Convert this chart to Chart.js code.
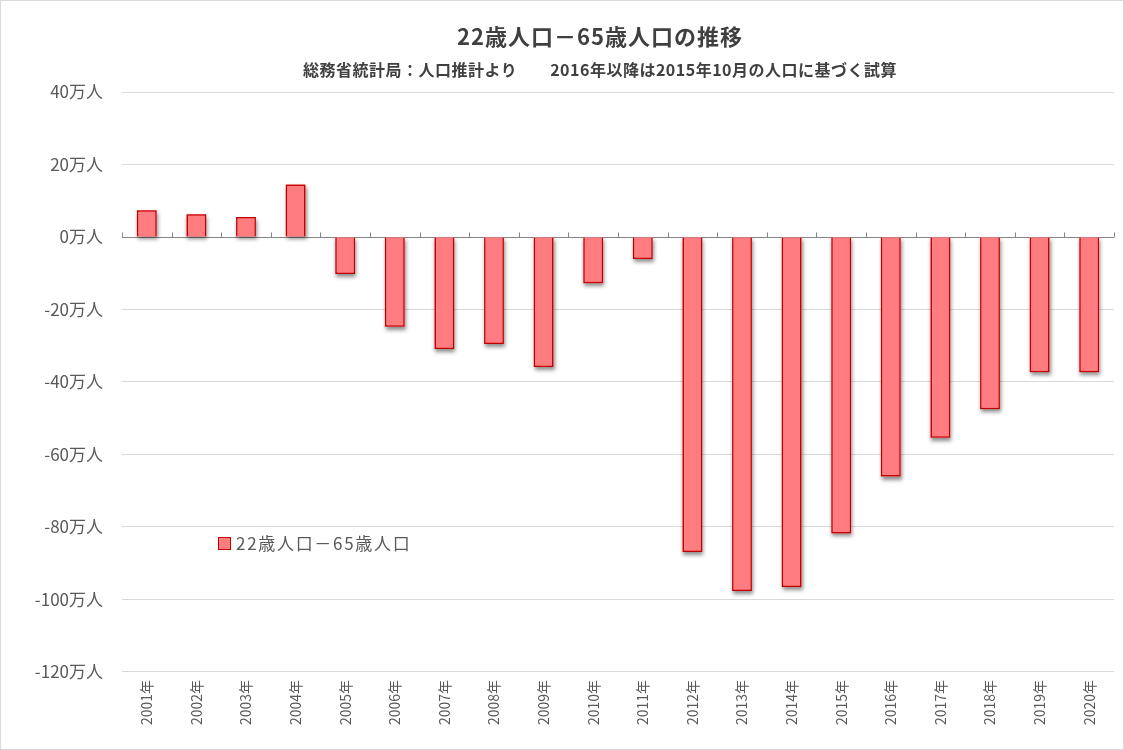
<!DOCTYPE html>
<html lang="ja">
<head>
<meta charset="utf-8">
<title>22歳人口－65歳人口の推移</title>
<script src="https://cdn.jsdelivr.net/npm/chart.js@4.4.1/dist/chart.umd.min.js"></script>
<style>
  html, body { margin: 0; padding: 0; background: #fff; }
  #wrap { position: relative; width: 1124px; height: 750px; overflow: hidden; }
  .head {
    position: absolute; left: 0; width: 1048px; padding-left: 76px;
    text-align: center; color: #404040; font-weight: bold;
    font-family: 'Noto Sans CJK JP', sans-serif; white-space: pre;
  }
  #title { top: 20px; font-size: 22px; line-height: 30px; letter-spacing: 1px; }
  #subtitle { top: 58px; font-size: 16px; line-height: 22px; letter-spacing: 0.5px; }
  #legend {
    position: absolute; left: 218px; top: 531px;
    font: 17px 'Noto Sans CJK JP', sans-serif; color: #595959;
    display: flex; align-items: center; line-height: 24px; letter-spacing: 1.7px;
  }
  #legend .box {
    width: 11px; height: 11px; background: #FF7C80;
    border: 1px solid #C00000; margin-right: 5px;
  }
</style>
</head>
<body>
<div id="wrap">
  <canvas id="chart" width="1124" height="750"></canvas>
  <div class="head" id="title">22歳人口－65歳人口の推移</div>
  <div class="head" id="subtitle">総務省統計局：人口推計より　　2016年以降は2015年10月の人口に基づく試算</div>
  <div id="legend"><span class="box"></span><span>22歳人口－65歳人口</span></div>
</div>
<script>
// 22歳人口 − 65歳人口 (万人)
const years = ['2001年', '2002年', '2003年', '2004年', '2005年', '2006年', '2007年', '2008年', '2009年', '2010年',
               '2011年', '2012年', '2013年', '2014年', '2015年', '2016年', '2017年', '2018年', '2019年', '2020年'];
const diffValues = [7.4, 6.3, 5.5, 14.5, -10.2, -24.8, -30.9, -29.5, -35.9, -12.8,
                    -6.1, -86.9, -97.7, -96.6, -81.8, -66.1, -55.4, -47.5, -37.3, -37.3];
const yMin = -120;
const yMax = 40;
const yStep = 20;

const FONT = "'Noto Sans CJK JP', 'Noto Sans', sans-serif";

// white background + thin outer frame
const frame = {
  id: 'frame',
  beforeDraw(chart) {
    const ctx = chart.ctx;
    ctx.save();
    ctx.fillStyle = '#fff';
    ctx.fillRect(0, 0, chart.width, chart.height);
    ctx.strokeStyle = '#D9D9D9';
    ctx.lineWidth = 1;
    ctx.strokeRect(0.5, 0.5, chart.width - 1, chart.height - 1);
    ctx.restore();
  }
};

// axis line at 0 with category tick marks, plus bar shadows
const zeroAxis = {
  id: 'zeroAxis',
  beforeDatasetsDraw(chart) {
    const { ctx, chartArea } = chart;
    const x = chart.scales.x, y = chart.scales.y;
    const y0 = Math.round(y.getPixelForValue(0)) + 0.5;

    ctx.save();
    ctx.strokeStyle = '#868686';
    ctx.lineWidth = 1;
    ctx.beginPath();
    ctx.moveTo(chartArea.left, y0);
    ctx.lineTo(chartArea.right, y0);
    for (let i = 0; i <= years.length; i++) {
      const px = Math.round(x.getPixelForValue(i - 0.5)) + 0.5;
      ctx.moveTo(px, y0 - 5);
      ctx.lineTo(px, y0);
    }
    ctx.stroke();

    // soft drop shadow under each bar
    ctx.shadowColor = 'rgba(0,0,0,0.45)';
    ctx.shadowBlur = 4;
    ctx.shadowOffsetX = 1;
    ctx.shadowOffsetY = 3;
    ctx.fillStyle = '#FF7C80';
    chart.getDatasetMeta(0).data.forEach(bar => {
      const p = bar.getProps(['x', 'y', 'base', 'width'], true);
      const top = Math.min(p.y, p.base), h = Math.abs(p.base - p.y);
      ctx.fillRect(p.x - p.width / 2, top, p.width, h);
    });
    ctx.restore();
  }
};

new Chart(document.getElementById('chart'), {
  type: 'bar',
  data: {
    labels: years,
    datasets: [{
      label: '22歳人口－65歳人口',
      data: diffValues,
      backgroundColor: '#FF7C80',
      borderColor: '#C00000',
      borderWidth: 1.5,
      barPercentage: 0.4,
      categoryPercentage: 1,
    }],
  },
  options: {
    responsive: false,
    animation: false,
    devicePixelRatio: 1,
    layout: { padding: { left: 0, right: 10, top: 92, bottom: 17 } },
    plugins: {
      legend: { display: false },
      tooltip: { enabled: false },
    },
    scales: {
      x: {
        grid: { display: false, drawTicks: false },
        border: { display: false },
        ticks: {
          color: '#595959',
          font: { family: FONT, size: 14 },
          minRotation: 90,
          maxRotation: 90,
          padding: 8,
        },
      },
      y: {
        min: yMin,
        max: yMax,
        afterFit(scale) { scale.width = 122; },
        grid: {
          color: ctx => ctx.tick && ctx.tick.value === 0 ? 'rgba(0,0,0,0)' : '#D9D9D9',
          drawTicks: false,
        },
        border: { display: false },
        ticks: {
          stepSize: yStep,
          color: '#595959',
          font: { family: FONT, size: 17 },
          padding: 19,
          callback: v => v + '万人',
        },
      },
    },
  },
  plugins: [frame, zeroAxis],
});
</script>
</body>
</html>
